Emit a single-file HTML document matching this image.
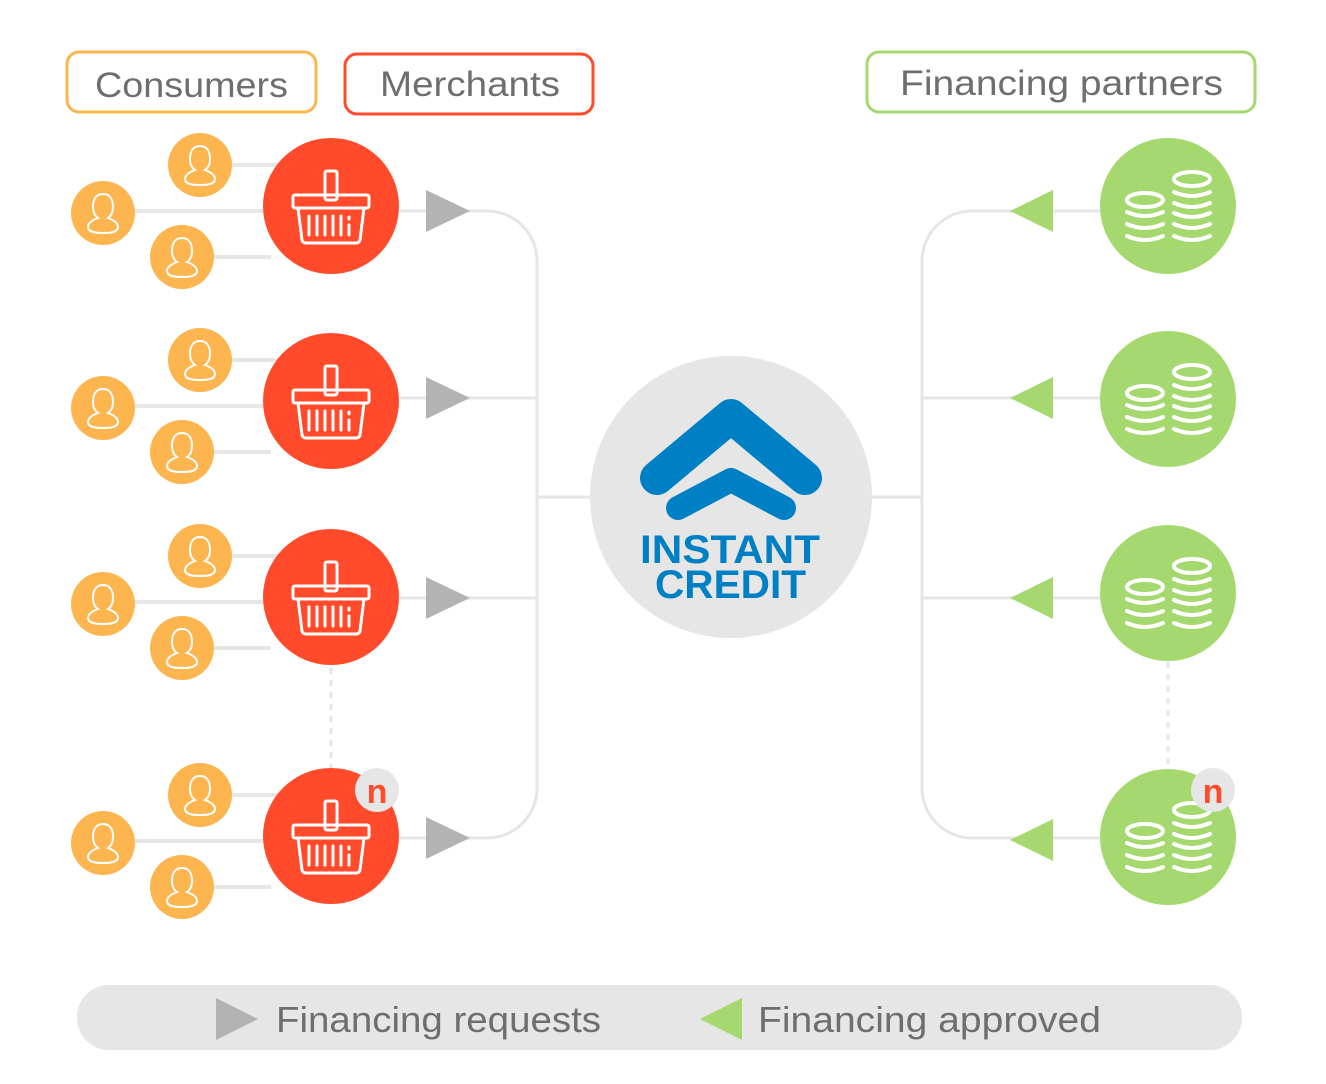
<!DOCTYPE html>
<html><head><meta charset="utf-8"><style>
html,body{margin:0;padding:0;background:#fff;}
svg{display:block}
text{font-family:"Liberation Sans",sans-serif;}
</style></head><body>
<svg width="1326" height="1084" viewBox="0 0 1326 1084" xmlns="http://www.w3.org/2000/svg">
<defs>
<g id="person">
<path d="M0,-19 C-8,-19 -10,-12 -10,-6 C-10,0 -8,3 -5,5 C-13,8 -15,11 -15,14 C-15,19 -8,20 0,20 C8,20 15,19 15,14 C15,11 13,8 5,5 C8,3 10,0 10,-6 C10,-12 8,-19 0,-19 Z" fill="none" stroke="#fff" stroke-width="2"/>
</g>
<g id="basket" fill="none" stroke="#fff" stroke-width="3" stroke-linejoin="round">
<rect x="-6" y="-35" width="12" height="29" rx="2"/>
<rect x="-38" y="-11" width="76" height="13" rx="2"/>
<path d="M-33,2 L-29,34 Q-28,37 -25,37 L25,37 Q28,37 29,34 L33,2"/>
<g stroke-linecap="round">
<line x1="-22" y1="10" x2="-22" y2="29"/><line x1="-14" y1="10" x2="-14" y2="29"/><line x1="-6" y1="10" x2="-6" y2="29"/><line x1="2" y1="10" x2="2" y2="29"/><line x1="10" y1="10" x2="10" y2="29"/><line x1="18" y1="19" x2="18" y2="29"/><line x1="18" y1="11" x2="18" y2="13"/>
</g>
</g>
<g id="coins" fill="none" stroke="#fff" stroke-width="4" stroke-linecap="round">
<ellipse cx="-23" cy="-6" rx="18" ry="7"/>
<path d="M-41,6 Q-23,14 -5,6"/><path d="M-41,18 Q-23,26 -5,18"/><path d="M-41,30 Q-23,38 -5,30"/>
<ellipse cx="24" cy="-27" rx="18" ry="7"/>
<path d="M6,-14 Q24,-6 42,-14"/><path d="M6,-3 Q24,5 42,-3"/><path d="M6,7 Q24,15 42,7"/><path d="M6,18 Q24,26 42,18"/><path d="M6,30 Q24,38 42,30"/>
</g>
<g id="crow">
<line x1="-99" y1="-41" x2="-41" y2="-41" stroke="#e6e6e6" stroke-width="4"/>
<line x1="-196" y1="5" x2="-68" y2="5" stroke="#e6e6e6" stroke-width="4"/>
<line x1="-117" y1="51" x2="-60" y2="51" stroke="#e6e6e6" stroke-width="4"/>
<circle cx="-131" cy="-41" r="32" fill="#fdb550"/><use href="#person" x="-131" y="-41"/>
<circle cx="-228" cy="7" r="32" fill="#fdb550"/><use href="#person" x="-228" y="7"/>
<circle cx="-149" cy="51" r="32" fill="#fdb550"/><use href="#person" x="-149" y="51"/>
<circle cx="0" cy="0" r="68" fill="#ff4b2b"/><use href="#basket"/>
</g>
</defs>

<rect x="67" y="52" width="249" height="60" rx="12" fill="none" stroke="#fdb550" stroke-width="3"/>
<text x="95" y="97" font-size="35" fill="#6e6e6e" textLength="193" lengthAdjust="spacingAndGlyphs">Consumers</text>
<rect x="345" y="54" width="248" height="60" rx="12" fill="none" stroke="#ff4b2b" stroke-width="3"/>
<text x="380" y="96" font-size="35" fill="#6e6e6e" textLength="180" lengthAdjust="spacingAndGlyphs">Merchants</text>
<rect x="867" y="52" width="388" height="60" rx="12" fill="none" stroke="#a5d96f" stroke-width="3"/>
<text x="900" y="95" font-size="35" fill="#6e6e6e" textLength="323" lengthAdjust="spacingAndGlyphs">Financing partners</text>

<g fill="none" stroke="#e6e6e6" stroke-width="3">
<path d="M400,211 H487 A50,50 0 0 1 537,261 V788 A50,50 0 0 1 487,838 H400"/>
<line x1="400" y1="398" x2="537" y2="398"/>
<line x1="400" y1="598" x2="537" y2="598"/>
<line x1="537" y1="497" x2="595" y2="497"/>
<path d="M1100,211 H972 A50,50 0 0 0 922,261 V788 A50,50 0 0 0 972,838 H1100"/>
<line x1="922" y1="398" x2="1100" y2="398"/>
<line x1="922" y1="598" x2="1100" y2="598"/>
<line x1="868" y1="497" x2="922" y2="497"/>
<line x1="331" y1="668" x2="331" y2="768" stroke-dasharray="6,6"/>
<line x1="1168" y1="662" x2="1168" y2="768" stroke-dasharray="6,6"/>
</g>

<g fill="#b3b3b3">
<polygon points="426,190 470,211 426,232"/>
<polygon points="426,377 470,398 426,419"/>
<polygon points="426,577 470,598 426,619"/>
<polygon points="426,817 470,838 426,859"/>
</g>
<g fill="#a5d96f">
<polygon points="1053,190 1010,211 1053,232"/>
<polygon points="1053,377 1010,398 1053,419"/>
<polygon points="1053,577 1010,598 1053,619"/>
<polygon points="1053,819 1010,840 1053,861"/>
</g>

<use href="#crow" x="331" y="206"/>
<use href="#crow" x="331" y="401"/>
<use href="#crow" x="331" y="597"/>
<use href="#crow" x="331" y="836"/>
<circle cx="377" cy="790" r="22" fill="#e6e6e6"/>
<text x="377" y="803" text-anchor="middle" font-size="34" font-weight="bold" fill="#ff4b2b">n</text>

<g>
<circle cx="1168" cy="206" r="68" fill="#a5d96f"/><use href="#coins" x="1168" y="206"/>
<circle cx="1168" cy="399" r="68" fill="#a5d96f"/><use href="#coins" x="1168" y="399"/>
<circle cx="1168" cy="593" r="68" fill="#a5d96f"/><use href="#coins" x="1168" y="593"/>
<circle cx="1168" cy="837" r="68" fill="#a5d96f"/><use href="#coins" x="1168" y="837"/>
</g>
<circle cx="1213" cy="790" r="22" fill="#e6e6e6"/>
<text x="1213" y="803" text-anchor="middle" font-size="34" font-weight="bold" fill="#ff4b2b">n</text>

<circle cx="731" cy="497" r="141" fill="#e6e6e6"/>
<polyline points="657,478 731,416 805,478" fill="none" stroke="#0080c4" stroke-width="34" stroke-linecap="round" stroke-linejoin="round"/>
<polyline points="678,508 731,480 784,508" fill="none" stroke="#0080c4" stroke-width="24" stroke-linecap="round" stroke-linejoin="round"/>
<text x="640" y="563" font-size="40" font-weight="bold" fill="#0080c4" textLength="180" lengthAdjust="spacingAndGlyphs">INSTANT</text>
<text x="655" y="598" font-size="40" font-weight="bold" fill="#0080c4" textLength="151" lengthAdjust="spacingAndGlyphs">CREDIT</text>

<rect x="77" y="985" width="1165" height="65" rx="32" fill="#e6e6e6"/>
<polygon points="216,998 258,1019 216,1040" fill="#b3b3b3"/>
<text x="276" y="1032" font-size="36" fill="#6e6e6e" textLength="325" lengthAdjust="spacingAndGlyphs">Financing requests</text>
<polygon points="742,998 700,1019 742,1040" fill="#a5d96f"/>
<text x="758" y="1032" font-size="36" fill="#6e6e6e" textLength="343" lengthAdjust="spacingAndGlyphs">Financing approved</text>
</svg>
</body></html>
